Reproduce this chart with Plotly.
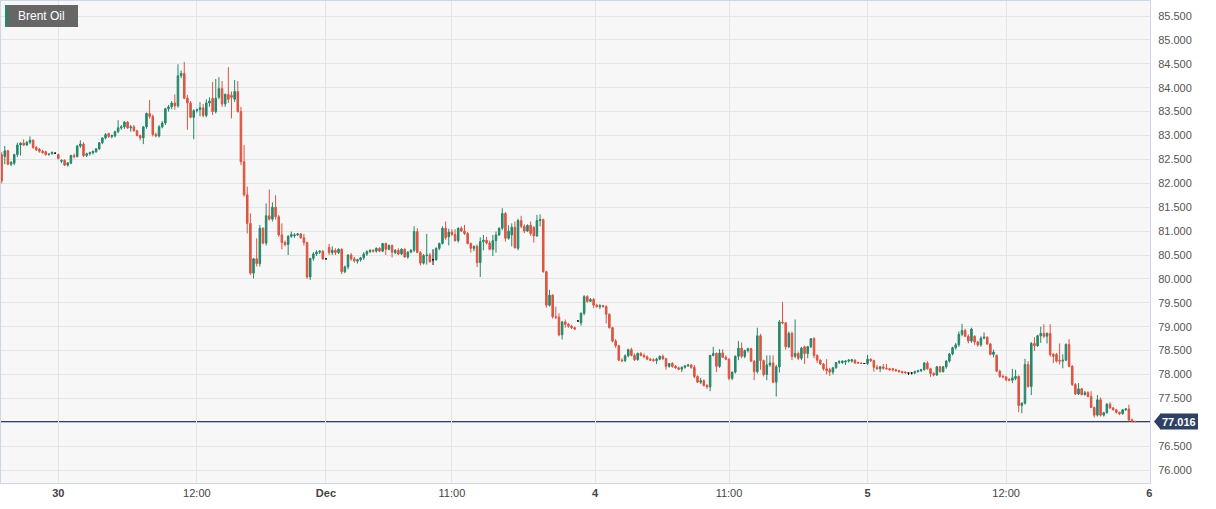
import numpy as np
import plotly.graph_objects as go

# ---------------- data (15-minute candles, Brent Oil) ----------------
opens = [
 82.60,82.56,82.68,82.40,82.42,82.60,82.80,82.84,82.80,82.86,82.90,82.75,82.71,82.67,82.66,82.60,82.62,82.63,82.60,82.46,
 82.48,82.38,82.42,82.58,82.56,82.78,82.82,82.58,82.62,82.64,82.66,82.72,82.85,82.95,83.04,82.98,82.99,83.08,83.16,83.18,
 83.28,83.16,83.18,83.10,83.00,82.95,83.18,83.46,83.40,83.02,82.99,83.18,83.26,83.56,83.60,83.68,83.62,84.25,84.30,83.78,
 83.68,83.38,
 83.52,83.54,83.58,83.42,83.68,83.78,83.50,83.80,83.98,83.66,83.86,83.84,83.76,83.92,83.50,82.45,81.76,81.16,80.12,80.42,
 80.32,81.06,80.75,81.32,81.25,81.50,81.30,80.92,80.76,80.72,80.89,80.90,80.92,80.94,80.86,80.76,80.04,80.43,80.52,80.56,
 80.58,80.42,80.66,80.55,80.60,80.55,80.62,80.15,80.25,80.50,80.42,80.37,80.40,80.44,80.52,80.57,80.60,80.58,80.64,80.58,
 80.74,80.62,80.70,
 80.55,80.60,80.52,80.62,80.46,80.56,80.60,80.99,80.55,80.33,80.49,80.50,80.40,80.40,80.64,80.74,81.06,80.88,80.98,80.93,
 80.80,81.06,81.00,80.95,80.74,80.64,80.68,80.34,80.78,80.81,80.75,80.62,80.80,80.92,81.06,81.37,80.85,80.92,81.08,80.64,
 81.22,81.10,81.00,81.12,81.08,80.90,81.22,81.24,80.15,79.45,79.66,79.21,79.20,78.83,79.10,79.05,79.01,78.98,79.12,79.08,
 79.28,79.63,79.53,79.57,
 79.45,79.42,79.44,79.42,79.26,78.98,78.70,78.60,78.30,78.29,78.39,78.52,78.40,78.31,78.44,78.40,78.37,78.32,78.31,78.29,
 78.32,78.38,78.33,78.17,78.23,78.17,78.14,78.11,78.15,78.18,78.20,78.15,77.96,77.84,77.87,77.77,77.74,78.40,78.44,78.17,
 78.45,78.36,78.32,77.92,78.05,78.38,78.55,78.38,78.50,78.54,78.28,78.06,78.81,78.29,78.00,78.20,78.24,77.84,78.16,
 79.10,79.08,78.58,78.86,78.38,78.44,78.34,78.58,78.44,78.58,78.75,78.40,78.30,78.22,78.12,78.10,78.05,78.14,78.25,78.25,
 78.26,78.28,78.28,78.30,78.25,78.24,78.23,78.23,78.32,78.29,78.15,78.12,78.16,78.13,78.12,78.12,78.10,78.08,78.06,78.05,
 78.03,78.03,78.03,78.06,78.08,78.10,78.24,78.12,78.02,77.99,78.16,78.06,78.16,78.28,78.43,78.56,78.62,78.84,78.92,78.80,
 78.70,78.80,78.68,
 78.62,78.76,78.78,78.64,78.42,78.40,78.07,77.96,77.95,77.90,77.88,77.92,77.96,77.35,77.40,78.21,77.75,78.65,78.60,78.81,
 78.86,78.80,78.86,78.42,78.42,78.30,78.28,78.30,78.63,78.17,77.79,77.59,77.70,77.58,77.62,77.54,77.31,77.15,77.47,77.15,
 77.20,77.38,77.30,77.26,77.21,77.18,77.26,77.28,77.05,77.02,
]
highs = [
 82.65,82.78,82.70,82.46,82.62,82.85,82.86,82.92,82.88,82.98,82.92,82.78,82.74,82.70,82.68,82.63,82.66,82.64,82.62,82.50,
 82.50,82.44,82.60,82.62,82.80,82.90,82.86,82.64,82.66,82.68,82.74,82.86,82.96,83.05,83.06,83.02,83.10,83.32,83.22,83.30,
 83.30,83.22,83.22,83.12,83.02,83.20,83.48,83.74,83.44,83.06,83.22,83.30,83.58,83.64,83.72,83.86,84.49,84.36,84.54,83.85,
 83.72,83.55,
 83.56,83.70,83.66,83.76,83.80,84.12,84.18,84.22,84.14,83.88,84.43,83.92,84.16,84.14,83.60,82.80,81.93,81.37,80.44,80.85,
 81.13,81.08,81.58,81.87,81.60,81.75,81.34,81.16,80.80,80.92,80.99,80.96,80.96,80.96,80.94,80.78,80.44,80.56,80.60,80.60,
 80.60,80.43,80.73,80.68,80.64,80.64,80.64,80.28,80.52,80.54,80.46,80.42,80.46,80.56,80.60,80.62,80.62,80.66,80.66,80.75,
 80.76,80.72,80.72,
 80.62,80.64,80.64,80.64,80.58,80.62,81.10,81.06,80.58,80.52,80.94,80.54,80.62,80.66,80.76,81.10,81.20,81.05,81.04,81.04,
 81.08,81.10,81.13,80.98,80.76,80.70,80.72,80.87,80.92,80.88,80.80,80.92,80.99,81.08,81.48,81.40,81.12,81.16,81.20,81.26,
 81.32,81.14,81.14,81.20,81.10,81.34,81.35,81.26,80.17,79.77,79.68,79.42,79.28,79.12,79.15,79.08,79.04,79.00,79.13,79.30,
 79.66,79.66,79.60,79.60,
 79.48,79.47,79.46,79.45,79.28,79.00,78.74,78.62,78.34,78.42,78.54,78.56,78.44,78.46,78.47,78.44,78.40,78.35,78.34,78.35,
 78.40,78.42,78.35,78.24,78.26,78.20,78.16,78.17,78.20,78.22,78.22,78.20,77.98,77.93,77.90,77.80,78.40,78.58,78.46,78.53,
 78.53,78.40,78.34,78.06,78.40,78.70,78.67,78.52,78.56,78.56,78.30,78.98,78.85,78.31,78.40,78.40,78.40,78.20,79.14,
 79.52,79.10,78.90,78.90,79.15,78.48,78.58,78.60,78.60,78.76,78.78,78.42,78.32,78.24,78.32,78.14,78.16,78.26,78.30,78.30,
 78.30,78.32,78.32,78.32,78.27,78.25,78.24,78.41,78.34,78.31,78.20,78.18,78.22,78.22,78.14,78.14,78.12,78.10,78.08,78.07,
 78.04,78.05,78.08,78.10,78.12,78.26,78.28,78.14,78.05,78.18,78.18,78.18,78.30,78.45,78.58,78.66,78.90,79.06,78.96,78.84,
 78.98,78.82,78.70,
 78.80,78.88,78.80,78.66,78.52,78.42,78.10,78.00,77.97,77.92,78.12,78.10,77.98,77.42,78.33,78.28,78.68,78.78,78.83,79.00,
 79.05,78.88,79.05,78.45,78.45,78.65,78.42,78.65,78.74,78.20,77.82,77.82,77.72,77.66,77.65,77.65,77.33,77.57,77.52,77.22,
 77.40,77.42,77.32,77.28,77.22,77.28,77.30,77.37,77.08,77.03,
]
lows = [
 82.00,82.40,82.38,82.36,82.38,82.55,82.58,82.78,82.78,82.82,82.72,82.68,82.64,82.62,82.58,82.58,82.60,82.62,82.50,82.42,
 82.36,82.35,82.40,82.52,82.54,82.74,82.55,82.55,82.58,82.60,82.64,82.70,82.82,82.92,82.95,82.94,82.96,83.05,83.12,83.14,
 83.14,83.08,83.08,82.98,82.90,82.82,83.14,83.35,82.98,82.96,82.96,83.15,83.22,83.50,83.55,83.54,83.58,84.20,83.76,83.12,
 83.36,82.92,
 83.48,83.40,83.38,83.38,83.60,83.43,83.46,83.76,83.60,83.60,83.68,83.36,83.70,83.48,82.38,81.72,80.95,80.08,80.01,80.26,
 80.26,80.72,80.70,81.22,81.20,81.24,80.88,80.62,80.68,80.50,80.86,80.86,80.90,80.84,80.70,80.00,79.98,80.38,80.48,80.52,
 80.40,80.41,80.50,80.50,80.50,80.52,80.10,80.12,80.20,80.38,80.34,80.32,80.36,80.40,80.48,80.54,80.55,80.55,80.56,80.56,
 80.50,80.60,80.45,
 80.52,80.50,80.50,80.44,80.42,80.54,80.56,80.54,80.28,80.30,80.30,80.34,80.29,80.38,80.60,80.72,80.82,80.70,80.90,80.78,
 80.76,80.98,80.92,80.72,80.55,80.58,80.25,80.04,80.60,80.72,80.60,80.48,80.55,80.90,81.02,80.78,80.82,80.68,80.64,80.60,
 81.06,80.96,80.98,80.90,80.76,80.88,81.10,80.13,79.40,79.42,79.17,79.16,78.80,78.73,78.98,78.98,78.95,78.93,79.11,79.02,
 79.24,79.50,79.52,79.39,
 79.40,79.37,79.40,79.07,78.96,78.67,78.56,78.28,78.26,78.26,78.36,78.38,78.28,78.29,78.38,78.34,78.30,78.28,78.27,78.22,
 78.30,78.30,78.10,78.14,78.14,78.12,78.09,78.05,78.12,78.16,78.12,77.92,77.82,77.80,77.75,77.70,77.65,78.38,78.05,78.14,
 78.35,78.30,77.88,77.88,78.02,78.30,78.34,78.34,78.46,78.26,77.88,78.02,78.10,77.96,77.88,78.16,77.82,77.54,78.04,
 79.05,78.52,78.55,78.30,78.34,78.30,78.30,78.22,78.34,78.55,78.34,78.24,78.20,78.08,78.00,77.97,78.00,78.12,78.22,78.22,
 78.20,78.25,78.25,78.22,78.22,78.22,78.22,78.20,78.26,78.06,78.10,78.05,78.10,78.10,78.08,78.06,78.06,78.04,78.02,78.01,
 77.99,78.00,78.01,78.04,78.05,78.08,78.10,77.95,77.96,77.97,78.04,78.04,78.12,78.25,78.40,78.52,78.58,78.80,78.78,78.65,
 78.66,78.62,78.58,
 78.58,78.74,78.62,78.40,78.36,78.05,77.93,77.92,77.86,77.86,77.82,77.88,77.21,77.19,77.37,77.72,77.57,78.49,78.58,78.66,
 78.76,78.65,78.37,78.24,78.25,78.21,78.13,78.28,78.15,77.76,77.57,77.57,77.56,77.56,77.52,77.30,77.10,77.12,77.12,77.12,
 77.18,77.28,77.25,77.18,77.15,77.16,77.24,77.02,77.00,77.00,
]
closes = [
 82.05,82.68,82.40,82.44,82.60,82.80,82.84,82.80,82.86,82.90,82.75,82.70,82.67,82.64,82.60,82.61,82.65,82.63,82.52,82.48,
 82.38,82.43,82.58,82.56,82.78,82.82,82.58,82.62,82.64,82.67,82.72,82.85,82.95,83.02,82.98,83.00,83.08,83.16,83.18,83.28,
 83.16,83.18,83.10,83.00,82.95,83.18,83.46,83.40,83.02,82.99,83.18,83.26,83.56,83.60,83.68,83.62,84.25,84.30,83.78,83.68,
 83.38,83.52,
 83.54,83.58,83.42,83.68,83.72,83.50,83.78,83.98,83.66,83.86,83.76,83.80,83.92,83.50,82.45,81.76,81.16,80.12,80.42,80.32,
 81.06,80.75,81.32,81.25,81.50,81.30,80.92,80.76,80.72,80.89,80.93,80.92,80.94,80.86,80.76,80.04,80.43,80.52,80.56,80.58,
 80.42,80.42,80.55,80.60,80.55,80.62,80.15,80.25,80.50,80.42,80.38,80.40,80.44,80.52,80.57,80.60,80.58,80.64,80.58,80.74,
 80.62,80.70,80.56,
 80.60,80.52,80.62,80.46,80.56,80.60,80.99,80.55,80.33,80.49,80.50,80.36,80.40,80.64,80.74,81.06,80.86,80.98,80.93,80.80,
 81.06,81.00,80.95,80.74,80.64,80.68,80.34,80.78,80.81,80.75,80.62,80.80,80.92,81.06,81.37,80.85,81.00,81.08,80.65,81.22,
 81.10,81.00,81.12,80.95,80.90,81.22,81.24,80.15,79.45,79.66,79.21,79.20,78.83,79.10,79.05,79.01,78.98,78.95,79.12,79.28,
 79.63,79.53,79.57,79.45,
 79.42,79.44,79.42,79.26,78.98,78.70,78.60,78.30,78.29,78.39,78.52,78.40,78.31,78.44,78.40,78.37,78.32,78.30,78.29,78.32,
 78.38,78.33,78.17,78.23,78.17,78.14,78.11,78.15,78.18,78.20,78.15,77.96,77.84,77.87,77.77,77.74,78.40,78.44,78.17,78.45,
 78.36,78.32,77.92,78.05,78.38,78.55,78.38,78.50,78.54,78.28,78.06,78.81,78.29,78.00,78.20,78.24,77.84,78.16,79.10,
 79.08,78.58,78.86,78.38,78.44,78.34,78.55,78.44,78.58,78.75,78.40,78.30,78.22,78.12,78.08,78.05,78.14,78.25,78.27,78.28,
 78.28,78.30,78.31,78.24,78.24,78.23,78.23,78.32,78.29,78.15,78.12,78.16,78.13,78.12,78.10,78.10,78.08,78.06,78.04,78.04,
 78.03,78.03,78.06,78.08,78.10,78.24,78.12,78.02,77.99,78.16,78.06,78.16,78.28,78.43,78.56,78.62,78.84,78.92,78.80,78.70,
 78.95,78.68,78.62,
 78.76,78.78,78.64,78.42,78.47,78.07,77.96,77.95,77.89,77.88,77.93,77.96,77.35,77.40,78.21,77.75,78.65,78.60,78.81,78.86,
 78.80,78.86,78.42,78.38,78.28,78.28,78.30,78.63,78.17,77.79,77.59,77.70,77.58,77.62,77.54,77.31,77.15,77.47,77.15,77.20,
 77.38,77.30,77.26,77.21,77.18,77.26,77.28,77.05,77.02,77.016,
]

# x-axis labels: candle index where each label falls
tick_candle = [18, 62, 103, 143, 188.5, 231, 275, 319, 364.5]
tick_labels = ["<b>30</b>", "12:00", "<b>Dec</b>", "11:00", "<b>4</b>", "11:00", "<b>5</b>", "12:00", "<b>6</b>"]

# y-axis labels (77.000 is hidden behind the last-price tag in the reference)
y_tick_values = [76.0, 76.5, 77.5, 78.0, 78.5, 79.0, 79.5, 80.0, 80.5, 81.0,
                 81.5, 82.0, 82.5, 83.0, 83.5, 84.0, 84.5, 85.0, 85.5]
y_grid_values = [77.0]

last_price = 77.016
series_name = "Brent Oil"

# ---------------- figure ----------------
n = min(len(opens), len(highs), len(lows), len(closes))
o = np.array(opens[:n]); h = np.array(highs[:n]); l = np.array(lows[:n]); c = np.array(closes[:n])
x = np.arange(n)
doji = np.isclose(o, c)
reg = ~doji

GREEN = "#26876b"
RED = "#dd5440"
PLOT_BG = "#f7f7f7"
GRID = "#e4e4e4"
NAVY = "#2e4163"

fig = go.Figure()
fig.add_trace(go.Candlestick(
    x=x[reg], open=o[reg], high=h[reg], low=l[reg], close=c[reg],
    increasing=dict(line=dict(color=GREEN, width=1), fillcolor=GREEN),
    decreasing=dict(line=dict(color=RED, width=1), fillcolor=RED),
    showlegend=False, hoverinfo="skip",
))
fig.add_trace(go.Candlestick(
    x=x[doji], open=o[doji], high=h[doji], low=l[doji], close=c[doji],
    increasing=dict(line=dict(color="#111111", width=1), fillcolor="#111111"),
    decreasing=dict(line=dict(color="#111111", width=1), fillcolor="#111111"),
    showlegend=False, hoverinfo="skip",
))

shapes = [
    # placeholder area bottom-left (hides gridlines)
    dict(type="rect", xref="paper", yref="paper", x0=0.007, x1=0.115, y0=0.02, y1=0.106,
         fillcolor=PLOT_BG, line=dict(width=0), layer="between"),
]
for gv in y_grid_values:
    shapes.append(dict(type="line", xref="paper", yref="y", x0=0, x1=1, y0=gv, y1=gv,
                       line=dict(color=GRID, width=1), layer="below"))
shapes += [
    # last price line
    dict(type="line", xref="paper", yref="y", x0=0, x1=1, y0=last_price, y1=last_price,
         line=dict(color=NAVY, width=1.2), layer="between"),
    # price label box + arrow (pixel sized, anchored at right edge)
    dict(type="rect", xref="paper", yref="y", xsizemode="pixel", ysizemode="pixel",
         xanchor=1, yanchor=last_price, x0=10, x1=48, y0=-8, y1=8,
         fillcolor=NAVY, line=dict(width=0), layer="above"),
    dict(type="path", xref="paper", yref="y", xsizemode="pixel", ysizemode="pixel",
         xanchor=1, yanchor=last_price, path="M 4,0 L 10.5,-8 L 10.5,8 Z",
         fillcolor=NAVY, line=dict(width=0), layer="above"),
    # title box
    dict(type="rect", xref="paper", yref="paper", xsizemode="pixel", ysizemode="pixel",
         xanchor=0, yanchor=1, x0=4, x1=77, y0=-4, y1=-26,
         fillcolor="#666666", line=dict(width=0), layer="above"),
    dict(type="rect", xref="paper", yref="paper", xsizemode="pixel", ysizemode="pixel",
         xanchor=0, yanchor=1, x0=4, x1=6.5, y0=-4, y1=-26,
         fillcolor=GREEN, line=dict(width=0), layer="above"),
]

annotations = [
    dict(xref="paper", yref="paper", x=0, y=1, xanchor="left", yanchor="middle",
         xshift=15, yshift=-15, text=series_name, showarrow=False,
         font=dict(family="Liberation Sans, Arial, sans-serif", size=12, color="white")),
    dict(xref="paper", yref="y", x=1, y=last_price, xanchor="left", yanchor="middle",
         xshift=10, text="<b>%.3f</b>" % last_price, showarrow=False,
         font=dict(family="Liberation Sans, Arial, sans-serif", size=11, color="white")),
]

fig.update_layout(
    width=1216, height=509,
    margin=dict(l=1, r=66, t=1, b=26),
    paper_bgcolor="white",
    plot_bgcolor=PLOT_BG,
    font=dict(family="Liberation Sans, Arial, sans-serif", size=11, color="#555555"),
    shapes=shapes,
    annotations=annotations,
    boxgap=0.3,
    xaxis=dict(
        range=[-0.2, 364.7],
        tickvals=tick_candle, ticktext=tick_labels,
        showgrid=True, gridcolor=GRID, gridwidth=1,
        zeroline=False,
        showline=True, linecolor="#cfd7e6", linewidth=1, mirror=True,
        ticks="", tickfont=dict(size=11, color="#444444"),
        rangeslider=dict(visible=False),
        fixedrange=True,
    ),
    yaxis=dict(
        side="right",
        range=[75.73, 85.814],
        tickmode="array", tickvals=y_tick_values,
        ticktext=["%.3f" % v for v in y_tick_values],
        showgrid=True, gridcolor=GRID, gridwidth=1,
        zeroline=False,
        showline=True, linecolor="#cfd7e6", linewidth=1, mirror=True,
        ticks="", ticklabelstandoff=5,
        tickfont=dict(size=11, color="#555555"),
        fixedrange=True,
    ),
)

fig.write_html(
    "out.html",
    config={"displayModeBar": False, "staticPlot": True},
    post_script="document.body.style.margin='0';document.body.style.overflow='hidden';",
)
